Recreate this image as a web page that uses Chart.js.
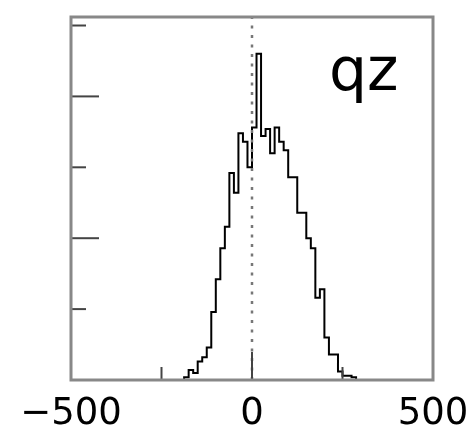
<!DOCTYPE html>
<html>
<head>
<meta charset="utf-8">
<script src="https://cdn.jsdelivr.net/npm/chart.js@4/dist/chart.umd.min.js"></script>
<style>
  html, body { margin: 0; padding: 0; background: #fff; }
  canvas { display: block; }
</style>
</head>
<body>
<canvas id="myChart" width="466" height="430"></canvas>
<script>
(function () {
  'use strict'

  // histogram bins (left edges) and counts
  var binStarts = [-200, -187.5, -175, -162.5, -150, -137.5, -125, -112.5, -100, -87.5,
    -75, -62.5, -50, -37.5, -25, -12.5, 0, 12.5, 25, 37.5,
    50, 62.5, 75, 87.5, 100, 112.5, 125, 137.5, 150, 162.5,
    175, 187.5, 200, 212.5, 225, 237.5, 250, 262.5, 275, 287.5]
  var binEnd = 300
  var counts = [0, 2, 7, 5, 13, 16, 23, 48, 71, 93,
    108, 146, 132, 174, 168, 150, 178, 230, 172, 177,
    160, 178, 168, 162, 143, 143, 118, 118, 100, 93,
    58, 64, 30, 18, 18, 6, 3, 3, 2, 0]

  var xTickLabels = [-500, 0, 500]
  var xMinorTicks = [-250, 250]
  var yMajorTicks = [100, 200]
  var yMinorTicks = [50, 150, 250]
  var zeroLine = [0, 0]
  var zeroLineY = [0, 256]
  var panelLabel = 'qz'

  var histPoints = binStarts.map(function (x, i) { return { x: x, y: counts[i] } })
  histPoints.push({ x: binEnd, y: 0 })

  // frame, inward ticks and the panel label
  var framePlugin = {
    id: 'frame',
    afterDatasetsDraw: function (chart) {
      var c = chart.ctx
      var a = chart.chartArea
      var xs = chart.scales.x
      var ys = chart.scales.y
      c.save()
      c.strokeStyle = '#444'
      c.lineWidth = 2
      yMajorTicks.forEach(function (v) {
        var y = ys.getPixelForValue(v)
        c.beginPath(); c.moveTo(a.left, y); c.lineTo(a.left + 28, y); c.stroke()
      })
      yMinorTicks.forEach(function (v) {
        var y = ys.getPixelForValue(v)
        c.beginPath(); c.moveTo(a.left, y); c.lineTo(a.left + 15, y); c.stroke()
      })
      c.beginPath(); c.moveTo(xs.getPixelForValue(0), a.bottom); c.lineTo(xs.getPixelForValue(0), a.bottom - 28); c.stroke()
      xMinorTicks.forEach(function (v) {
        var x = xs.getPixelForValue(v)
        c.beginPath(); c.moveTo(x, a.bottom); c.lineTo(x, a.bottom - 13); c.stroke()
      })
      c.strokeStyle = '#888'
      c.lineWidth = 3
      c.strokeRect(a.left, a.top, a.right - a.left, a.bottom - a.top)
      c.fillStyle = '#000'
      c.font = '60px "DejaVu Sans"'
      c.textBaseline = 'alphabetic'
      c.fillText(panelLabel, 329, 90)
      c.restore()
    }
  }

  var ctx = document.getElementById('myChart')
  // eslint-disable-next-line no-unused-vars
  var myChart = new Chart(ctx, {
    type: 'line',
    data: {
      datasets: [{
        data: zeroLine.map(function (x, i) { return { x: x, y: zeroLineY[i] } }),
        borderColor: '#777',
        borderWidth: 2.5,
        borderDash: [3, 6.5],
        pointRadius: 0,
        fill: false
      }, {
        data: histPoints,
        stepped: true,
        borderColor: '#000',
        borderWidth: 2,
        pointRadius: 0,
        fill: false
      }]
    },
    options: {
      responsive: false,
      animation: false,
      layout: { padding: { left: 71, right: 33, top: 17, bottom: 0 } },
      plugins: { legend: { display: false }, tooltip: { enabled: false } },
      scales: {
        x: {
          type: 'linear',
          min: -500,
          max: 500,
          grid: { display: false },
          border: { display: false },
          afterBuildTicks: function (scale) {
            scale.ticks = xTickLabels.map(function (v) { return { value: v } })
          },
          afterFit: function (scale) {
            scale.paddingLeft = 0
            scale.paddingRight = 0
            scale.height = 50
          },
          ticks: {
            maxRotation: 0,
            autoSkip: false,
            padding: 4,
            color: '#000',
            font: { family: 'DejaVu Sans', size: 37 },
            callback: function (v) { return String(v).replace('-', '\u2212') }
          }
        },
        y: {
          display: false,
          min: 0,
          max: 256
        }
      }
    },
    plugins: [framePlugin]
  })
})()
</script>
</body>
</html>
